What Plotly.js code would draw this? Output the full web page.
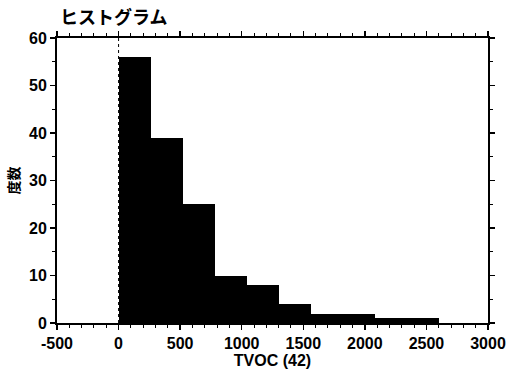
<!DOCTYPE html>
<html>
<head>
<meta charset="utf-8">
<script src="https://cdn.plot.ly/plotly-3.0.1.min.js"></script>
<style>html,body{margin:0;padding:0;background:#fff;}#chart{width:510px;height:375px;}</style>
</head>
<body>
<div id="chart"></div>
<script>
// Data
var binEdges = [0, 260, 520, 780, 1040, 1300, 1560, 1820, 2080, 2340, 2600];
var counts = [56, 39, 25, 10, 8, 4, 2, 2, 1, 1];
var xTickVals = [-500, 0, 500, 1000, 1500, 2000, 2500, 3000];
var yTickVals = [0, 10, 20, 30, 40, 50, 60];
var chartTitle = 'ヒストグラム';
var xTitle = 'TVOC (42)';
var yTitle = '度数';

var centers = [], widths = [];
for (var i = 0; i < counts.length; i++) {
  centers.push((binEdges[i] + binEdges[i + 1]) / 2);
  widths.push(binEdges[i + 1] - binEdges[i]);
}

var numFont = {family: 'Liberation Sans, Arial, sans-serif', size: 16, color: '#000', weight: 'bold'};
var cjkFont = {family: 'Noto Sans CJK JP, sans-serif', size: 14, color: '#000', weight: 'bold'};

var trace = {
  type: 'bar',
  x: centers,
  y: counts,
  width: widths,
  marker: {color: '#000', line: {width: 0}},
  hoverinfo: 'skip'
};

var layout = {
  width: 510, height: 375,
  margin: {l: 57, r: 22, t: 38, b: 52},
  paper_bgcolor: '#fff', plot_bgcolor: '#fff',
  showlegend: false,
  bargap: 0,
  title: {text: chartTitle, font: {family: 'Noto Sans CJK JP, sans-serif', size: 18, color: '#000', weight: 'bold'},
          x: 0.007, xanchor: 'left', xref: 'paper', y: 1 - 18/375, yanchor: 'middle'},
  xaxis: {
    range: [-500, 3000], tickvals: xTickVals, ticktext: xTickVals.map(String),
    showgrid: false, zeroline: false,
    showline: true, linecolor: '#000', linewidth: 2, mirror: 'allticks',
    ticks: 'outside', ticklen: 5, tickwidth: 1.5, tickcolor: '#000',
    minor: {dtick: 100, ticks: 'outside', ticklen: 3, tickwidth: 1, tickcolor: '#000'},
    tickfont: numFont,
    title: {text: xTitle, font: numFont, standoff: 0}
  },
  yaxis: {
    range: [0, 60], tickvals: yTickVals, ticktext: yTickVals.map(String),
    showgrid: false, zeroline: false,
    showline: true, linecolor: '#000', linewidth: 2, mirror: 'allticks',
    ticks: 'outside', ticklen: 5, tickwidth: 1.5, tickcolor: '#000',
    minor: {dtick: 5, ticks: 'outside', ticklen: 3, tickwidth: 1, tickcolor: '#000'},
    tickfont: numFont,
    title: {text: yTitle, font: cjkFont, standoff: 6}
  },
  shapes: [{
    type: 'line', xref: 'x', yref: 'paper', x0: 0, x1: 0, y0: 0, y1: 1,
    line: {color: '#000', width: 1, dash: 'dot'}, layer: 'below'
  }]
};

Plotly.newPlot('chart', [trace], layout, {staticPlot: true, displayModeBar: false});
</script>
</body>
</html>
